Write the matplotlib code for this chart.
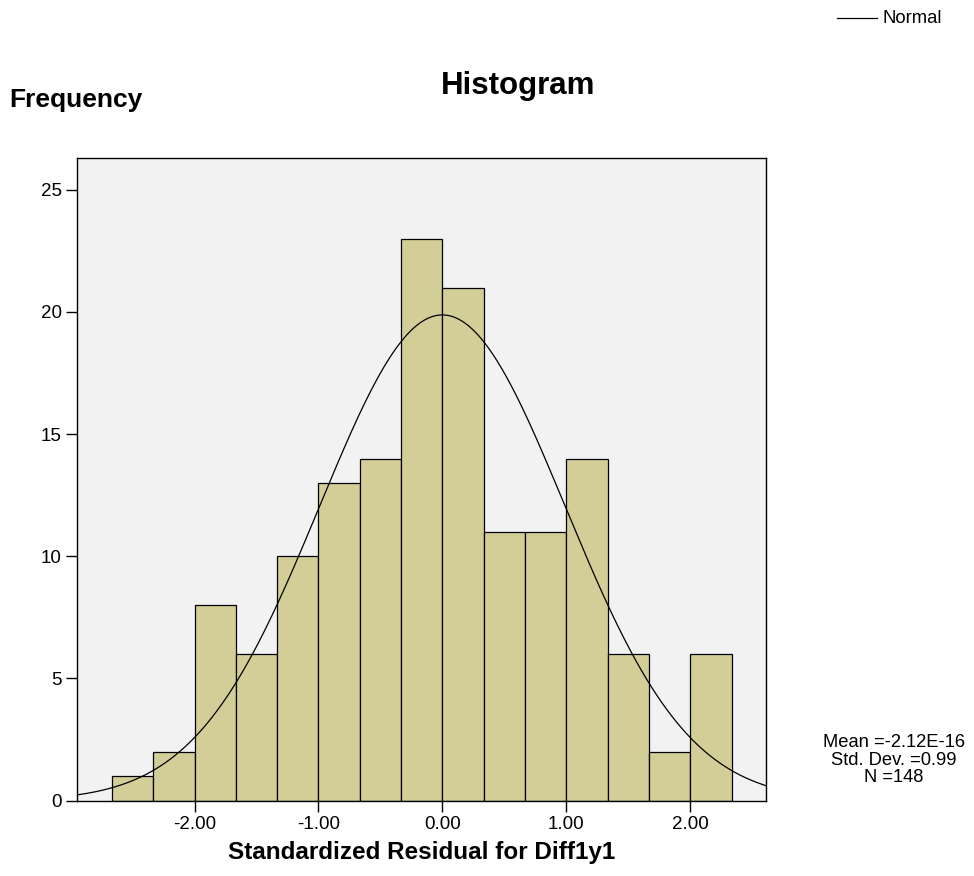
import numpy as np
import matplotlib.pyplot as plt

plt.rcParams['font.family'] = ['Liberation Sans', 'DejaVu Sans']

# histogram bins (width 1/3) and counts
bin_edges = np.arange(-8, 8) / 3.0
counts = [1, 2, 8, 6, 10, 13, 14, 23, 21, 11, 11, 14, 6, 2, 6]
mean = -2.12e-16
std = 0.99
n = 148

fig = plt.figure(figsize=(9.74, 8.76), dpi=100)
ax = fig.add_axes([0.0791, 0.0860, 0.7074, 0.7336])
ax.set_facecolor('#F2F2F2')

widths = np.diff(bin_edges)
ax.bar(bin_edges[:-1], counts, width=widths, align='edge',
       color='#D3CE98', edgecolor='black', linewidth=0.9, zorder=2)

xlo, xhi = -2.948, 2.612
xs = np.linspace(xlo, xhi, 400)
bw = widths[0]
ys = n * bw / (std * np.sqrt(2 * np.pi)) * np.exp(-0.5 * ((xs - mean) / std) ** 2)
ax.plot(xs, ys, color='black', linewidth=0.9, zorder=3)

ax.set_xlim(xlo, xhi)
ax.set_ylim(0, 26.3)
ax.set_xticks([-2, -1, 0, 1, 2])
ax.set_xticklabels(['%.2f' % v for v in [-2, -1, 0, 1, 2]])
ax.set_yticks([0, 5, 10, 15, 20, 25])
ax.tick_params(axis='both', direction='out', length=8, width=1, labelsize=13.5, pad=3)
for s in ax.spines.values():
    s.set_linewidth(1)

ax.set_xlabel('Standardized Residual for Diff1y1', fontsize=17.5, fontweight='bold', labelpad=6)
fig.text(0.532, 0.902, 'Histogram', ha='center', va='center', fontsize=22.5, fontweight='bold')
fig.text(0.010, 0.886, 'Frequency', ha='left', va='center', fontsize=19, fontweight='bold')

fig.text(0.918, 0.1324, 'Mean =-2.12E-16\nStd. Dev. =0.99\nN =148', ha='center', va='center',
         fontsize=13.2, linespacing=1.05)

# legend in the top right corner
fig.add_artist(plt.Line2D([0.859, 0.900], [0.979, 0.979], color='black', linewidth=0.9))
fig.text(0.906, 0.979, 'Normal', ha='left', va='center', fontsize=13.3)

fig.savefig('out.png', dpi=100)
